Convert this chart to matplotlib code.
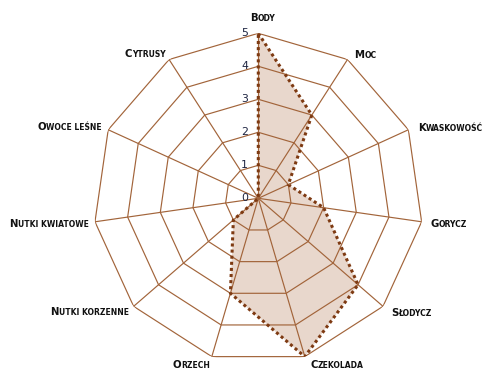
import numpy as np
import matplotlib
matplotlib.use("Agg")
import matplotlib.pyplot as plt
from matplotlib.transforms import IdentityTransform

categories = ["Body", "Moc", "Kwaskowość", "Gorycz", "Słodycz", "Czekolada",
              "Orzech", "Nutki korzenne", "Nutki kwiatowe", "Owoce leśne", "Cytrusy"]
values = [5, 3, 1, 2, 4, 5, 3, 1, 0, 0, 0]
rticks = [0, 1, 2, 3, 4, 5]

# label placement (pixel offsets from outer vertex, alignment)
label_offsets = [(4, 12, "center"), (7, 1, "left"), (10, -1, "left"), (9, -5, "left"),
                 (8, -10, "left"), (5.5, -11, "left"), (-2, -11, "right"),
                 (-5, -9, "right"), (-6.5, -5, "right"), (-6.5, -0.5, "right"),
                 (-3.5, 2, "right")]

grid_col = "#A2643A"
line_col = "#7E3A12"
fill_col = "#E8D7CC"

W, H = 487, 390
fig = plt.figure(figsize=(W / 100, H / 100), dpi=100)
cx, cy, R = 258.3, 198.3, 165.0
ax = fig.add_axes([(cx - R) / W, (H - cy - R) / H, 2 * R / W, 2 * R / H],
                  projection="polar")
ax.set_theta_offset(np.pi / 2)
ax.set_theta_direction(-1)
ax.set_ylim(0, rticks[-1])
ax.grid(False)
ax.spines["polar"].set_visible(False)
ax.set_xticks([])
ax.set_yticks([])
ax.patch.set_alpha(0)

n = len(categories)
theta = np.arange(n) * 2 * np.pi / n
th_closed = np.concatenate([theta, theta[:1]])
vals_closed = np.concatenate([values, values[:1]])

ax.fill(th_closed, vals_closed, color=fill_col, zorder=1, lw=0)

for r in rticks[1:]:
    ax.plot(th_closed, [r] * (n + 1), color=grid_col, lw=0.85, zorder=2)
for t in theta:
    ax.plot([t, t], [0, rticks[-1]], color=grid_col, lw=0.85, zorder=2)

ax.plot(th_closed, vals_closed, color=line_col, lw=2.2,
        linestyle=(0, (1.0, 1.0)), dash_capstyle="butt", zorder=3)

for r in rticks:
    ax.annotate(str(r), xy=(0, r), xytext=(-7.5, 0), textcoords="offset points",
                ha="right", va="center", fontsize=7.8, color="#1c2340")

fig.canvas.draw()
rend = fig.canvas.get_renderer()
big, small = 7.3, 5.5
kw = dict(transform=IdentityTransform(), ha="left", va="baseline",
          color="#111111", fontweight="bold")


def width(s, size):
    t = fig.text(0, 0, s, fontsize=size, **kw)
    w = t.get_window_extent(rend).width
    t.remove()
    return w


for i, name in enumerate(categories):
    vx, vy = ax.transData.transform((theta[i], rticks[-1]))
    dx, dy, ha = label_offsets[i]
    x0, y0 = vx + dx, vy + dy
    first, rest = name[0].upper(), name[1:].upper()
    adv1 = width(first * 2, big) - width(first, big)
    w2 = width(rest, small)
    tot = adv1 + w2
    if ha == "left":
        left = x0
    elif ha == "right":
        left = x0 - tot
    else:
        left = x0 - tot / 2
    fig.text(left, y0, first, fontsize=big, **kw)
    fig.text(left + adv1, y0, rest, fontsize=small, **kw)

fig.savefig("out.png", dpi=100)
